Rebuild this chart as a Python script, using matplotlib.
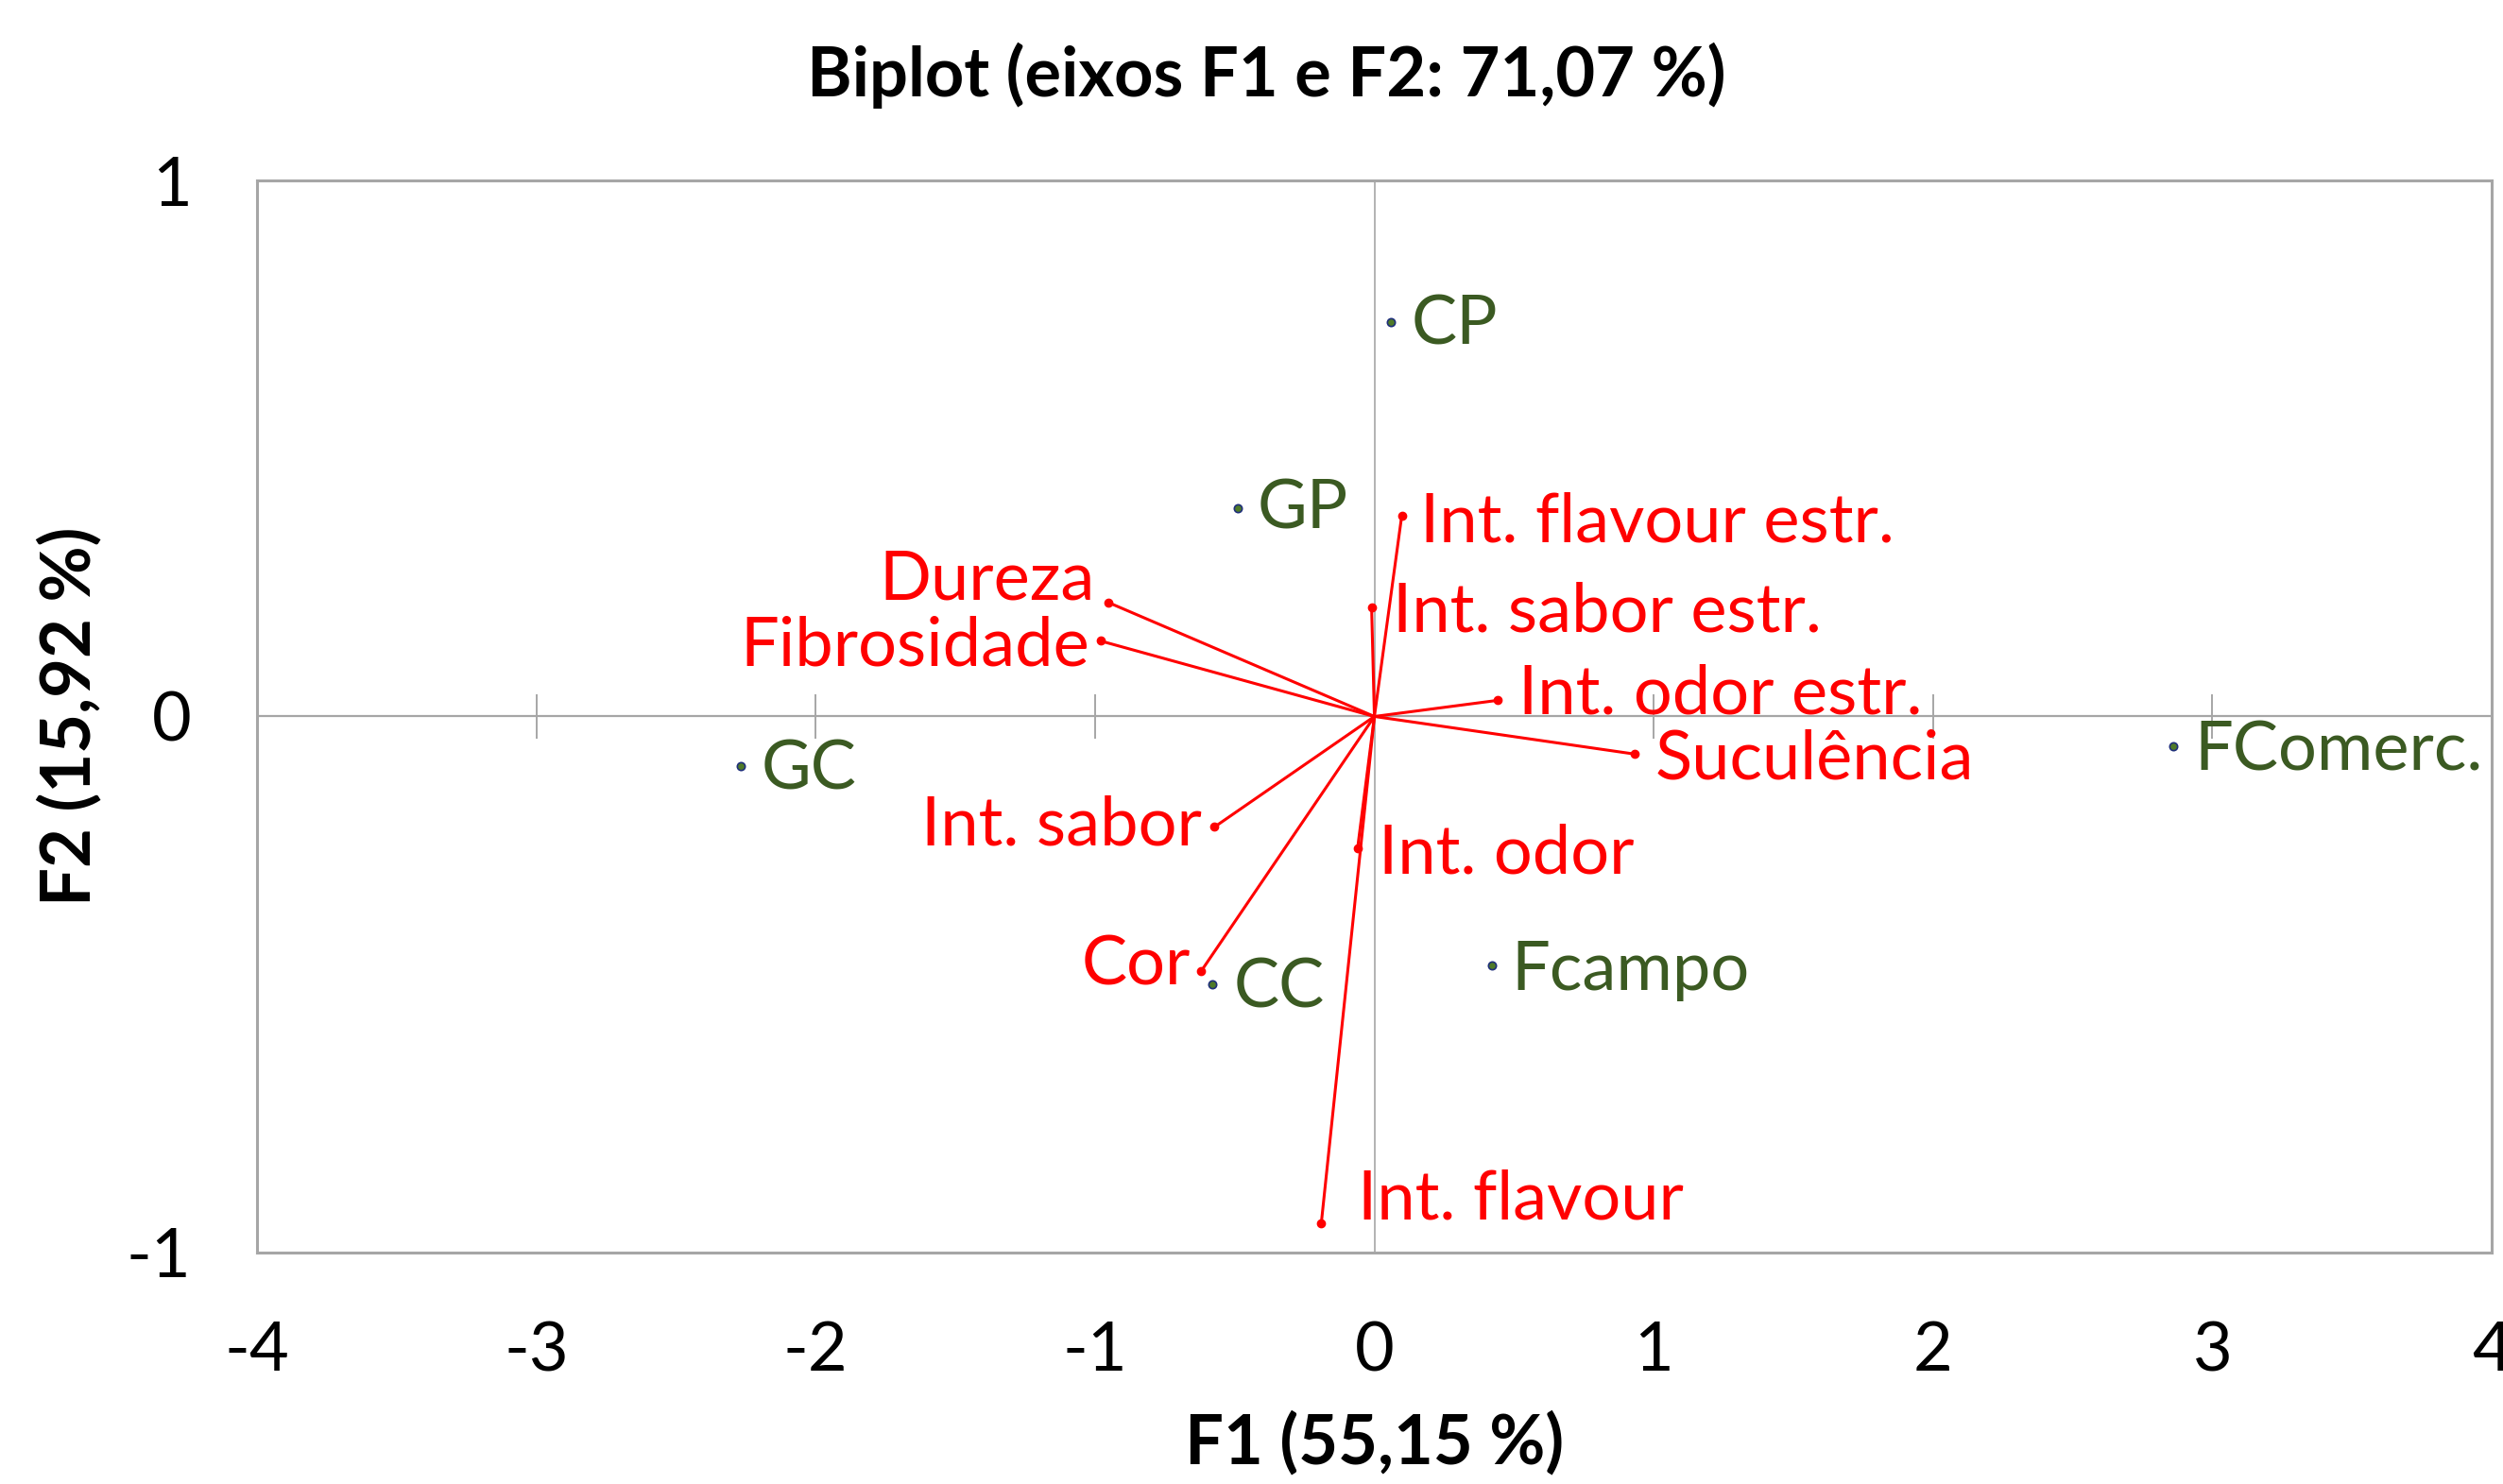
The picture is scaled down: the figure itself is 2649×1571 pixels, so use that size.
import matplotlib
matplotlib.use("Agg")
import matplotlib.pyplot as plt

plt.rcParams['font.family'] = ['Lato', 'DejaVu Sans']

# Observations (scores)
obs_names = ["CP", "GP", "GC", "FComerc.", "Fcampo", "CC"]
obs_f1 = [0.06, -0.49, -2.267, 2.86, 0.42, -0.58]
obs_f2 = [0.735, 0.389, -0.093, -0.055, -0.465, -0.50]

# Variables (loadings)
var_names = ["Int. flavour estr.", "Dureza", "Fibrosidade", "Int. sabor estr.",
             "Int. odor estr.", "Suculência", "Int. sabor", "Int. odor",
             "Cor", "Int. flavour"]
var_f1 = [0.098, -0.954, -0.981, -0.01, 0.44, 0.93, -0.572, -0.06, -0.62, -0.19]
var_f2 = [0.375, 0.213, 0.141, 0.204, 0.03, -0.07, -0.206, -0.245, -0.475, -0.945]

xticks = [-4, -3, -2, -1, 0, 1, 2, 3, 4]
yticks = [-1, 0, 1]

title = "Biplot (eixos F1 e F2: 71,07 %)"
xlabel = "F1 (55,15 %)"
ylabel = "F2 (15,92 %)"

# label placement (offset in points, ha)
var_offsets = {
    "Int. flavour estr.": ((14, -5), 'left'),
    "Dureza": ((-10, 17), 'right'),
    "Fibrosidade": ((-8, -4), 'right'),
    "Int. sabor estr.": ((16, -4), 'left'),
    "Int. odor estr.": ((16, 5), 'left'),
    "Suculência": ((16, -4), 'left'),
    "Int. sabor": ((-10, 1), 'right'),
    "Int. odor": ((16, -5), 'left'),
    "Cor": ((-8, 4), 'right'),
    "Int. flavour": ((28, 18), 'left'),
}
obs_offsets = {
    "CP": (15, -2),
    "GP": (15, -1),
    "GC": (15, -3),
    "FComerc.": (16, -4),
    "Fcampo": (15, -4),
    "CC": (16, -3),
}

fig = plt.figure(figsize=(26.49, 15.71), dpi=100)
ax = fig.add_axes([0.1027, 0.156, 0.8928, 0.7224])
ax.set_xlim(-4, 4)
ax.set_ylim(-1, 1)

gray = '#a6a6a6'
for s in ax.spines.values():
    s.set_color(gray)
    s.set_linewidth(2.2)

ax.axhline(0, color=gray, lw=1.6, zorder=1)
ax.axvline(0, color=gray, lw=1.2, zorder=1)
for t in xticks:
    if t not in (xticks[0], xticks[-1], 0):
        ax.vlines(t, -0.042, 0.042, color=gray, lw=1.4, zorder=1)

red = '#ff0000'
green = '#3b5a22'
for name, x, y in zip(var_names, var_f1, var_f2):
    ax.plot([0, x], [0, y], color=red, lw=2.2, zorder=3)
    ax.plot([x], [y], 'o', color=red, ms=6, zorder=4)
    off, ha = var_offsets[name]
    ax.annotate(name, (x, y), xytext=off, textcoords='offset points',
                ha=ha, va='center', color=red, fontsize=52, zorder=5)

for name, x, y in zip(obs_names, obs_f1, obs_f2):
    ax.plot([x], [y], 'o', mfc='#4f7a28', mec='#1f2f7a', mew=1.2, ms=6, zorder=4)
    ax.annotate(name, (x, y), xytext=obs_offsets[name], textcoords='offset points',
                ha='left', va='center', color=green, fontsize=52, zorder=5)

ax.set_xticks(xticks)
ax.set_yticks(yticks)
ax.set_xticklabels([str(t) for t in xticks], fontsize=52)
ax.set_yticklabels([str(t) for t in yticks], fontsize=52)
ax.tick_params(axis='x', length=0, pad=52)
ax.tick_params(axis='y', length=0, pad=50)

ax.set_xlabel(xlabel, fontsize=52, fontweight='bold', labelpad=22)
ax.set_ylabel(ylabel, fontsize=52, fontweight='bold', labelpad=18)
fig.text(0.506, 0.949, title, ha='center', va='center', fontsize=52, fontweight='bold')

fig.savefig("out.png", dpi=100)
